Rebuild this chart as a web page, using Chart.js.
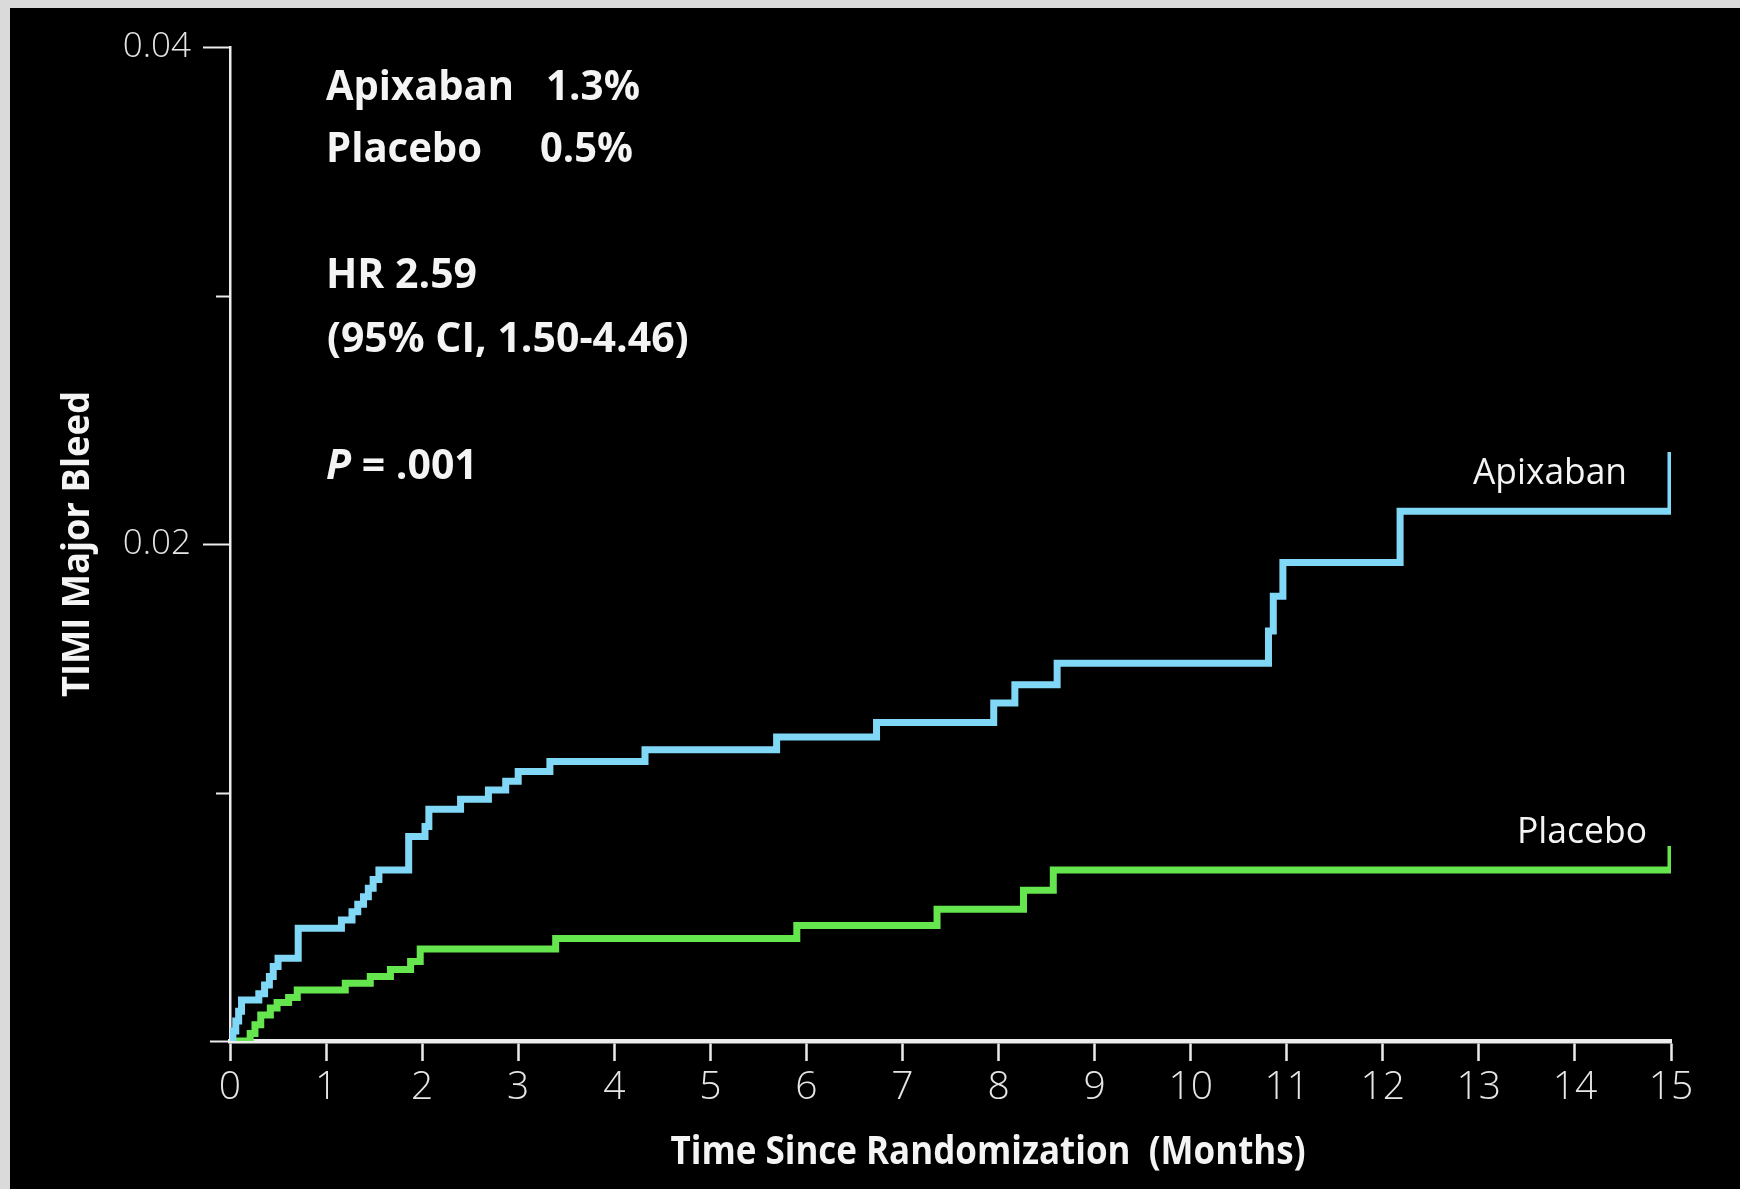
<!DOCTYPE html>
<html>
<head>
<meta charset="utf-8">
<script src="https://cdn.jsdelivr.net/npm/chart.js@4.4.1/dist/chart.umd.min.js"></script>
<style>
  html, body { margin: 0; padding: 0; background: #dadada; overflow: hidden; }
  #c { position: absolute; left: 0; top: 0; }
</style>
</head>
<body>
<canvas id="c" width="1740" height="1189"></canvas>
<script>
// Kaplan–Meier style cumulative incidence of TIMI major bleeding
const seriesNames = ['Apixaban', 'Placebo'];

// event times (months) and cumulative incidence after each event
const apixabanTime = [0, 0.03, 0.06, 0.09, 0.12, 0.30, 0.36, 0.41, 0.45, 0.50, 0.71,
  1.16, 1.27, 1.33, 1.39, 1.44, 1.49, 1.55, 1.86, 2.03, 2.07, 2.40, 2.69, 2.87, 3.00,
  3.33, 4.32, 5.69, 6.73, 7.95, 8.17, 8.61, 10.81, 10.86, 10.96, 12.18, 15.0];
const apixabanRisk = [0, 0.0004, 0.0008, 0.0012, 0.00165, 0.0019, 0.00225, 0.0026, 0.0030, 0.00333, 0.00454,
  0.00487, 0.0052, 0.0055, 0.0058, 0.00615, 0.0065, 0.00688, 0.00823, 0.00863, 0.00933, 0.00973, 0.0101, 0.01045, 0.01085,
  0.01125, 0.01172, 0.01223, 0.01282, 0.0136, 0.01434, 0.0152, 0.0165, 0.0179, 0.01926, 0.02132, 0.0237];

const placeboTime = [0, 0.21, 0.26, 0.32, 0.42, 0.49, 0.61, 0.70, 1.20, 1.46, 1.67, 1.88, 1.98,
  3.39, 5.90, 7.36, 8.26, 8.57, 15.0];
const placeboRisk = [0, 0.0003, 0.00065, 0.00105, 0.00133, 0.00155, 0.00175, 0.00205, 0.00232, 0.0026, 0.00288, 0.0032, 0.0037,
  0.00412, 0.00465, 0.0053, 0.00607, 0.00688, 0.00785];

// axis ticks
const monthTicks = [0, 1, 2, 3, 4, 5, 6, 7, 8, 9, 10, 11, 12, 13, 14, 15];
const riskTicksLabeled = [0.02, 0.04];
const riskTicksMinor = [0.01, 0.03];

// summary statistics shown in the upper left
const rateLabels = ['1.3%', '0.5%'];
const hrText = 'HR 2.59';
const ciText = '(95% CI, 1.50-4.46)';
const pText = ' = .001';

const xTitle = 'Time Since Randomization  (Months)';
const yTitle = 'TIMI Major Bleed';

const colors = { apixaban: '#80d8f6', placebo: '#66e64e', axis: '#ececec', text: '#f4f4f4' };
const FONT = '"Open Sans", "Noto Sans", sans-serif';

const toPoints = (t, v) => t.map((x, i) => ({ x, y: v[i] }));

const isTick = (v, list) => list.some(t => Math.abs(t - v) < 1e-9);

const backdrop = {
  id: 'backdrop',
  beforeDraw(chart) {
    const ctx = chart.ctx;
    ctx.save();
    ctx.fillStyle = '#dadada';
    ctx.fillRect(0, 0, chart.width, chart.height);
    ctx.fillStyle = '#000000';
    ctx.fillRect(10, 8, chart.width - 10, chart.height - 8);
    ctx.restore();
  }
};

const annotations = {
  id: 'annotations',
  afterDraw(chart) {
    const ctx = chart.ctx;
    const xs = chart.scales.x, ys = chart.scales.y;
    ctx.save();

    // short ticks on the risk axis
    ctx.strokeStyle = colors.axis;
    ctx.lineWidth = 2;
    const left = xs.getPixelForValue(0);
    riskTicksMinor.forEach(v => {
      const y = Math.round(ys.getPixelForValue(v)) + 0.5;
      ctx.beginPath(); ctx.moveTo(left - 14, y); ctx.lineTo(left, y); ctx.stroke();
    });
    const y0 = Math.round(ys.getPixelForValue(0)) + 0.5;
    ctx.beginPath(); ctx.moveTo(left - 20, y0); ctx.lineTo(left, y0); ctx.stroke();

    ctx.fillStyle = colors.text;
    ctx.textBaseline = 'alphabetic';
    ctx.textAlign = 'left';

    // summary block
    ctx.font = `bold 41px ${FONT}`;
    ctx.fillText(seriesNames[0], 326, 100, 188);
    ctx.fillText(rateLabels[0], 546, 100, 94);
    ctx.fillText(seriesNames[1], 326, 162, 156);
    ctx.fillText(rateLabels[1], 540, 162, 93);
    ctx.fillText(hrText, 326, 288, 151);
    ctx.fillText(ciText, 327, 352, 364);
    ctx.font = `italic bold 41px ${FONT}`;
    ctx.fillText('P', 326, 479);
    const pw = ctx.measureText('P').width;
    ctx.font = `bold 41px ${FONT}`;
    ctx.fillText(pText, 326 + pw, 479, 154 - pw);

    // curve labels
    ctx.font = `36px ${FONT}`;
    ctx.textAlign = 'right';
    ctx.fillText(seriesNames[0], 1627, 484, 154);
    ctx.fillText(seriesNames[1], 1647, 843, 130);

    // axis titles
    ctx.font = `bold 40px ${FONT}`;
    ctx.textAlign = 'center';
    ctx.fillText(xTitle, 988, 1164, 635);

    ctx.translate(89, 544);
    ctx.rotate(-Math.PI / 2);
    ctx.font = `bold 38px ${FONT}`;
    ctx.fillText(yTitle, 0, 0, 306);
    ctx.restore();
  }
};

new Chart(document.getElementById('c'), {
  type: 'line',
  data: {
    datasets: [
      {
        label: seriesNames[0],
        data: toPoints(apixabanTime, apixabanRisk),
        borderColor: colors.apixaban,
        borderWidth: 7,
        stepped: 'before',
        pointRadius: 0,
        fill: false
      },
      {
        label: seriesNames[1],
        data: toPoints(placeboTime, placeboRisk),
        borderColor: colors.placebo,
        borderWidth: 7,
        stepped: 'before',
        pointRadius: 0,
        fill: false
      }
    ]
  },
  options: {
    responsive: false,
    animation: false,
    devicePixelRatio: 1,
    layout: { padding: { left: 0, right: 69, top: 47, bottom: 0 } },
    plugins: { legend: { display: false }, tooltip: { enabled: false }, title: { display: false } },
    scales: {
      x: {
        type: 'linear',
        min: 0,
        max: 15,
        afterBuildTicks: s => { s.ticks = monthTicks.map(v => ({ value: v })); },
        afterFit: s => { s.height = 148; },
        ticks: {
          color: '#e6e6e6',
          font: { family: FONT, size: 39, weight: '300' },
          padding: 3,
          maxRotation: 0,
          autoSkip: false,
          callback: v => String(v)
        },
        grid: {
          drawOnChartArea: false,
          drawTicks: true,
          tickLength: 20,
          tickWidth: 2.5,
          tickColor: colors.axis
        },
        border: { display: true, color: colors.axis, width: 4.5 }
      },
      y: {
        type: 'linear',
        min: 0,
        max: 0.04,
        afterBuildTicks: s => { s.ticks = [0, 0.01, 0.02, 0.03, 0.04].map(v => ({ value: v })); },
        afterFit: s => { s.width = 230; },
        ticks: {
          color: '#e6e6e6',
          font: { family: FONT, size: 35, weight: '300' },
          padding: 12,
          autoSkip: false,
          callback: v => isTick(v, riskTicksLabeled) ? v.toFixed(2) : ''
        },
        grid: {
          drawOnChartArea: false,
          drawTicks: true,
          tickLength: 27,
          tickWidth: 2,
          tickColor: c => isTick(c.tick.value, riskTicksLabeled) ? colors.axis : 'rgba(0,0,0,0)'
        },
        border: { display: true, color: colors.axis, width: 2.5 }
      }
    }
  },
  plugins: [backdrop, annotations]
});
</script>
</body>
</html>
